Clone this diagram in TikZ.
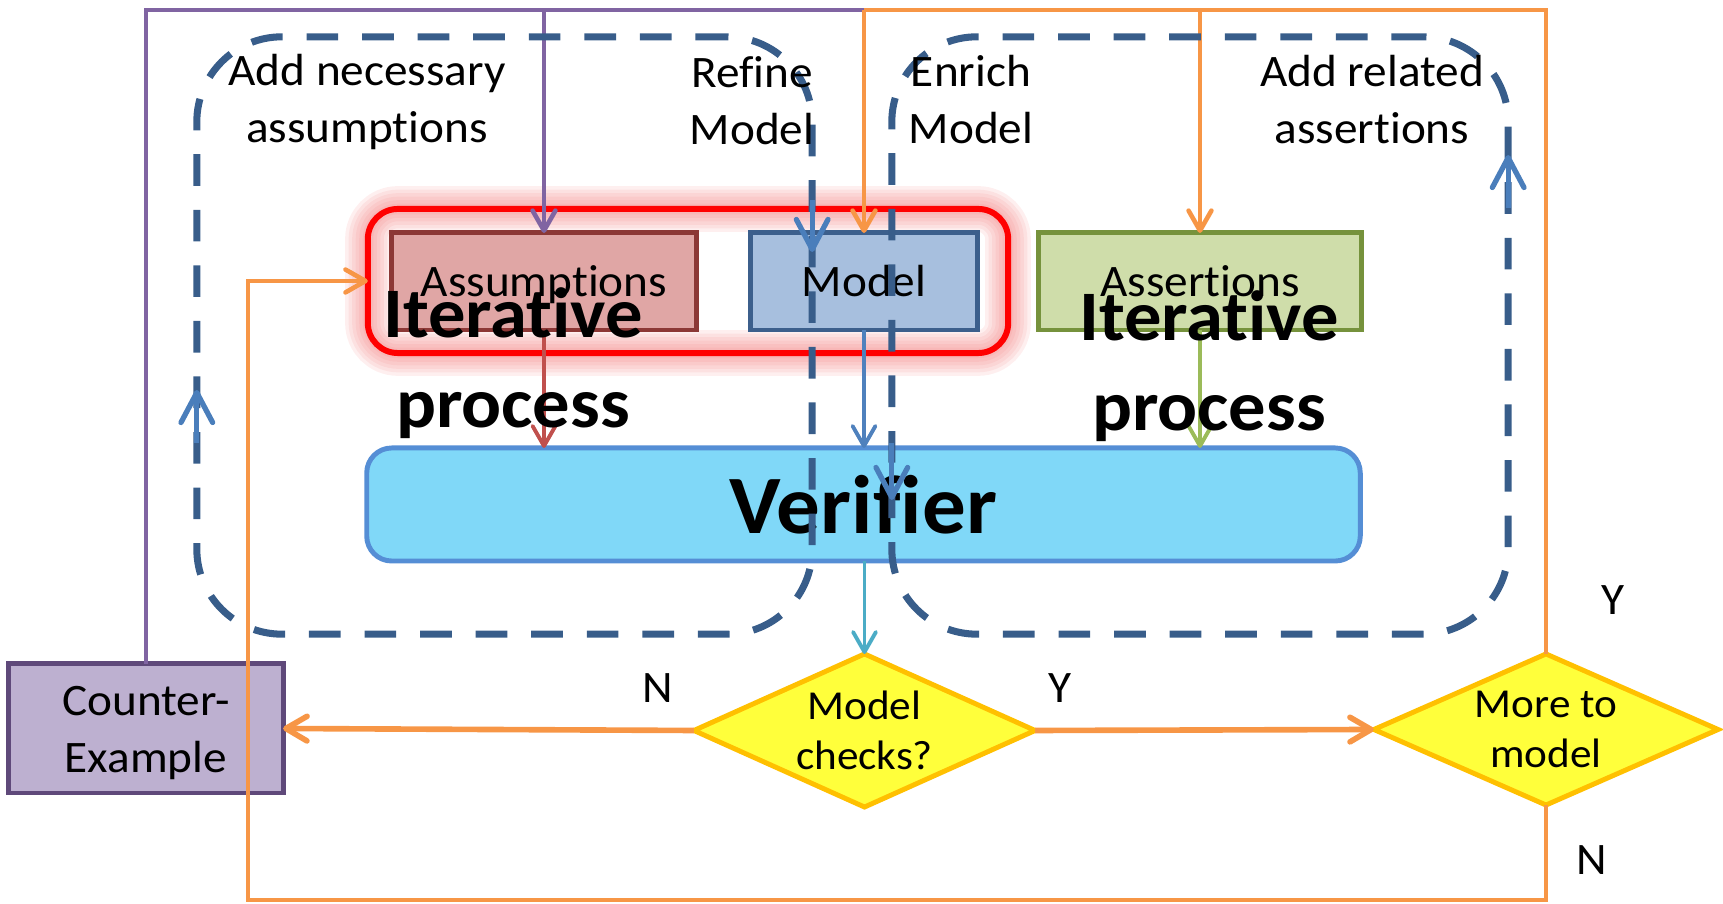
\documentclass[tikz,border=0pt]{standalone}
\usepackage{fontspec}
\setmainfont{Carlito}[Ligatures={NoCommon},FakeStretch=1.05]
\usetikzlibrary{arrows.meta,shapes.geometric}
\definecolor{purpc}{HTML}{8064A2}
\definecolor{cefill}{HTML}{BDB0D0}
\definecolor{cedraw}{HTML}{5F497A}
\definecolor{asfill}{HTML}{E0A6A5}
\definecolor{asdraw}{HTML}{8C3836}
\definecolor{mofill}{HTML}{A7BFDE}
\definecolor{modraw}{HTML}{3C5F8C}
\definecolor{atfill}{HTML}{CFDDAA}
\definecolor{atdraw}{HTML}{76923C}
\definecolor{vefill}{HTML}{80D8F8}
\definecolor{vedraw}{HTML}{558ED5}
\definecolor{difill}{HTML}{FFFF3B}
\definecolor{didraw}{HTML}{FFC000}
\definecolor{orangec}{HTML}{F79646}
\definecolor{loopc}{HTML}{385D8A}
\definecolor{looparrc}{HTML}{4A7EBB}
\definecolor{redarrc}{HTML}{C0504D}
\definecolor{greenarrc}{HTML}{9BBB59}
\definecolor{cyanarrc}{HTML}{4BACC6}
\definecolor{bluearrc}{HTML}{4F81BD}
\definecolor{glowc}{HTML}{F27070}
\newcommand\fsMain{\fontsize{12.8}{16.2}\selectfont}
\newcommand\fsDia{\fontsize{11.7}{14.2}\selectfont}
\newcommand\fsIter{\fontsize{20.2}{25.6}\selectfont\bfseries}
\newcommand\fsVer{\fontsize{23.6}{28}\selectfont\bfseries}
\begin{document}
\begin{tikzpicture}[x=0.01cm,y=-0.01cm,
  every node/.style={outer sep=0pt,inner sep=0pt},
  boxnode/.style={draw,line width=1.4pt,minimum height=0.97cm,text height=8.3pt,text depth=0pt,font=\fsMain},
  grpbox/.style={draw=red,line width=1.7pt,rounded corners=0.3cm,minimum width=6.4cm,minimum height=1.44cm},
  dianode/.style={diamond,draw=didraw,fill=difill,line width=1.4pt},
  dtext/.style={align=center,font=\fsDia},
  lbl/.style={align=center,font=\fsMain},
  iter/.style={align=center,font=\fsIter},
  loopbox/.style={draw=loopc,line width=2pt,dash pattern=on 9pt off 6.8pt,rounded corners=0.85cm},
  thinarr/.style={-{Straight Barb[length=5.7pt,width=6.5pt,round]}},
  thickarr/.style={-{Straight Barb[length=6pt,width=7pt,round]}},
  looparr/.style={draw=looparrc,line width=1.5pt,-{Straight Barb[length=8.5pt,width=9pt,round]}},
  purpline/.style={draw=purpc,line width=1.3pt},
  orline/.style={draw=orangec,line width=1.3pt},
  orthick/.style={draw=orangec,line width=1.6pt},
  colarr/.style={line width=1.1pt,thinarr},
]
\useasboundingbox (0,0) rectangle (1723,904);

% glow of the group box
\foreach \w in {13,11,9,7,5,3}{
  \draw[glowc,line width=\w pt,opacity=0.11,rounded corners=0.3cm] (368,209) rectangle (1008,353);
}
\node[grpbox] (grp) at (688,281) {};

% boxes
\node[boxnode,fill=asfill,draw=asdraw,minimum width=3.04cm] (assum) at (544,281.5) {Assumptions};
\node[boxnode,fill=mofill,draw=modraw,minimum width=2.27cm] (model) at (864,281.5) {Model};
\node[boxnode,fill=atfill,draw=atdraw,minimum width=3.22cm] (assert) at (1200,281.5) {Assertions};
\node[draw=vedraw,fill=vefill,line width=1.4pt,rounded corners=0.25cm,minimum width=9.93cm,minimum height=1.13cm,font=\fsVer] (ver) at (863.5,504.5) {Verifier};
\node[dianode,minimum width=3.41cm,minimum height=1.53cm] (mc) at (864.5,730.5) {};
\node[dianode,minimum width=3.44cm,minimum height=1.51cm] (mm) at (1546,729.5) {};
\node[dtext] at (mc) {Model\\checks?};
\node[dtext] at (mm) {More to\\model};
\node[draw=cedraw,fill=cefill,line width=1.4pt,minimum width=2.74cm,minimum height=1.29cm] (ce) at (146,728.5) {};
\node[lbl] at ([yshift=-0.05cm]ce.center) {Counter-\\Example};

% connectors
\coordinate (topP) at (864,10);
\coordinate (botL) at (248,900);
\draw[purpline] (ce.north) |- (topP);
\draw[purpline,thinarr] (assum.north |- topP) -- (assum.north);
\draw[orline] (mm.north) |- (topP);
\draw[orline,thinarr] (topP) -- (model.north);
\draw[orline,thinarr] (assert.north |- topP) -- (assert.north);
\draw[orthick,thickarr] (mc.west) -- (ce.east);
\draw[orthick,thickarr] (mc.east) -- (mm.west);
\draw[orline,thinarr] (mm.south) |- (botL) |- (grp.west);
\draw[draw=cyanarrc,colarr] (ver.south -| mc.north) -- (mc.north);
\draw[draw=redarrc,colarr] (assum.south) -- (assum.south |- ver.north);
\draw[draw=bluearrc,colarr] (model.south) -- (model.south |- ver.north);
\draw[draw=greenarrc,colarr] (assert.south) -- (assert.south |- ver.north);

% iteration loops
\node[loopbox,minimum width=6.15cm,minimum height=5.97cm] (loopL) at (504.5,335.5) {};
\node[loopbox,minimum width=6.16cm,minimum height=5.97cm] (loopR) at (1200,335.5) {};
\draw[looparr] (loopL.west |- 0,443) -- (loopL.west |- 0,390);
\draw[looparr] (loopL.east |- 0,200) -- (loopL.east |- 0,252);
\draw[looparr] (loopR.east |- 0,208) -- (loopR.east |- 0,155);
\draw[looparr] (loopR.west |- 0,443) -- (loopR.west |- 0,500);

% texts
\node[lbl] (tAdd) at (367,102) {Add necessary\\assumptions};
\node[lbl] (tRef) at (752,101) {Refine\\Model};
\node[lbl] (tEnr) at (971,100) {Enrich\\Model};
\node[lbl] (tRel) at (1372,100) {Add related\\assertions};
\node[iter] (it1) at (513,363) {Iterative\\process};
\node[iter] (it2) at (1209,366) {Iterative\\process};
\node[font=\fsMain] (lN1) at (658,688) {N};
\node[font=\fsMain] (lY1) at (1060,688) {Y};
\node[font=\fsMain] (lY2) at (1613,600) {Y};
\node[font=\fsMain] (lN2) at (1592,860) {N};
\end{tikzpicture}
\end{document}
